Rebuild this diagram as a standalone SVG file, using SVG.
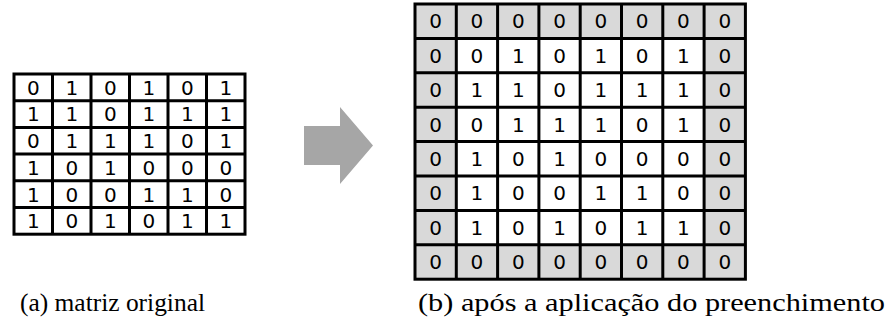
<svg xmlns="http://www.w3.org/2000/svg" width="891" height="331" viewBox="0 0 891 331">
<style>
.c{fill:#ffffff;stroke:#000;stroke-width:3}
.g{fill:#d9d9d9;stroke:#000;stroke-width:3}
.d{font-family:"DejaVu Sans","Liberation Sans",sans-serif;font-size:20px;fill:#000;text-anchor:middle}
.cap{font-family:"Liberation Serif","DejaVu Serif",serif;font-size:26px;fill:#000}
</style>
<rect width="891" height="331" fill="#fff"/>
<g id="matrix-a">
<rect class="c" x="14" y="74" width="231" height="160.2"/>
<path d="M52.5 74V234.2M91 74V234.2M129.5 74V234.2M168 74V234.2M206.5 74V234.2M14 100.7H245M14 127.4H245M14 154.1H245M14 180.8H245M14 207.5H245" stroke="#000" stroke-width="3" fill="none"/>
<g class="d">
<text x="33.25" y="94.7">0</text><text x="71.75" y="94.7">1</text><text x="110.25" y="94.7">0</text><text x="148.75" y="94.7">1</text><text x="187.25" y="94.7">0</text><text x="225.75" y="94.7">1</text>
<text x="33.25" y="121.4">1</text><text x="71.75" y="121.4">1</text><text x="110.25" y="121.4">0</text><text x="148.75" y="121.4">1</text><text x="187.25" y="121.4">1</text><text x="225.75" y="121.4">1</text>
<text x="33.25" y="148.1">0</text><text x="71.75" y="148.1">1</text><text x="110.25" y="148.1">1</text><text x="148.75" y="148.1">1</text><text x="187.25" y="148.1">0</text><text x="225.75" y="148.1">1</text>
<text x="33.25" y="174.8">1</text><text x="71.75" y="174.8">0</text><text x="110.25" y="174.8">1</text><text x="148.75" y="174.8">0</text><text x="187.25" y="174.8">0</text><text x="225.75" y="174.8">0</text>
<text x="33.25" y="201.5">1</text><text x="71.75" y="201.5">0</text><text x="110.25" y="201.5">0</text><text x="148.75" y="201.5">1</text><text x="187.25" y="201.5">1</text><text x="225.75" y="201.5">0</text>
<text x="33.25" y="228.2">1</text><text x="71.75" y="228.2">0</text><text x="110.25" y="228.2">1</text><text x="148.75" y="228.2">0</text><text x="187.25" y="228.2">1</text><text x="225.75" y="228.2">1</text>
</g>
</g>
<g id="matrix-b">
<rect class="g" x="415" y="4" width="330.4" height="275.2"/>
<rect x="456.3" y="38.4" width="247.8" height="206.4" fill="#fff"/>
<path d="M456.3 4V279.2M497.6 4V279.2M538.9 4V279.2M580.2 4V279.2M621.5 4V279.2M662.8 4V279.2M704.1 4V279.2M415 38.4H745.4M415 72.8H745.4M415 107.2H745.4M415 141.6H745.4M415 176H745.4M415 210.4H745.4M415 244.8H745.4" stroke="#000" stroke-width="3" fill="none"/>
<g class="d">
<text x="435.65" y="28.4">0</text><text x="476.95" y="28.4">0</text><text x="518.25" y="28.4">0</text><text x="559.55" y="28.4">0</text><text x="600.85" y="28.4">0</text><text x="642.15" y="28.4">0</text><text x="683.45" y="28.4">0</text><text x="724.75" y="28.4">0</text>
<text x="435.65" y="62.8">0</text><text x="476.95" y="62.8">0</text><text x="518.25" y="62.8">1</text><text x="559.55" y="62.8">0</text><text x="600.85" y="62.8">1</text><text x="642.15" y="62.8">0</text><text x="683.45" y="62.8">1</text><text x="724.75" y="62.8">0</text>
<text x="435.65" y="97.2">0</text><text x="476.95" y="97.2">1</text><text x="518.25" y="97.2">1</text><text x="559.55" y="97.2">0</text><text x="600.85" y="97.2">1</text><text x="642.15" y="97.2">1</text><text x="683.45" y="97.2">1</text><text x="724.75" y="97.2">0</text>
<text x="435.65" y="131.6">0</text><text x="476.95" y="131.6">0</text><text x="518.25" y="131.6">1</text><text x="559.55" y="131.6">1</text><text x="600.85" y="131.6">1</text><text x="642.15" y="131.6">0</text><text x="683.45" y="131.6">1</text><text x="724.75" y="131.6">0</text>
<text x="435.65" y="166">0</text><text x="476.95" y="166">1</text><text x="518.25" y="166">0</text><text x="559.55" y="166">1</text><text x="600.85" y="166">0</text><text x="642.15" y="166">0</text><text x="683.45" y="166">0</text><text x="724.75" y="166">0</text>
<text x="435.65" y="200.4">0</text><text x="476.95" y="200.4">1</text><text x="518.25" y="200.4">0</text><text x="559.55" y="200.4">0</text><text x="600.85" y="200.4">1</text><text x="642.15" y="200.4">1</text><text x="683.45" y="200.4">0</text><text x="724.75" y="200.4">0</text>
<text x="435.65" y="234.8">0</text><text x="476.95" y="234.8">1</text><text x="518.25" y="234.8">0</text><text x="559.55" y="234.8">1</text><text x="600.85" y="234.8">0</text><text x="642.15" y="234.8">1</text><text x="683.45" y="234.8">1</text><text x="724.75" y="234.8">0</text>
<text x="435.65" y="269.2">0</text><text x="476.95" y="269.2">0</text><text x="518.25" y="269.2">0</text><text x="559.55" y="269.2">0</text><text x="600.85" y="269.2">0</text><text x="642.15" y="269.2">0</text><text x="683.45" y="269.2">0</text><text x="724.75" y="269.2">0</text>
</g>
</g>
<g id="connectors">
<polygon points="304,126 340,126 340,107 373,145.5 340,184 340,165 304,165" fill="#a6a6a6"/>
</g>
<g id="captions">
<text class="cap" x="20" y="311" textLength="185" lengthAdjust="spacingAndGlyphs">(a) matriz original</text>
<text class="cap" x="418" y="311" textLength="467" lengthAdjust="spacingAndGlyphs">(b) após a aplicação do preenchimento</text>
</g>
</svg>
